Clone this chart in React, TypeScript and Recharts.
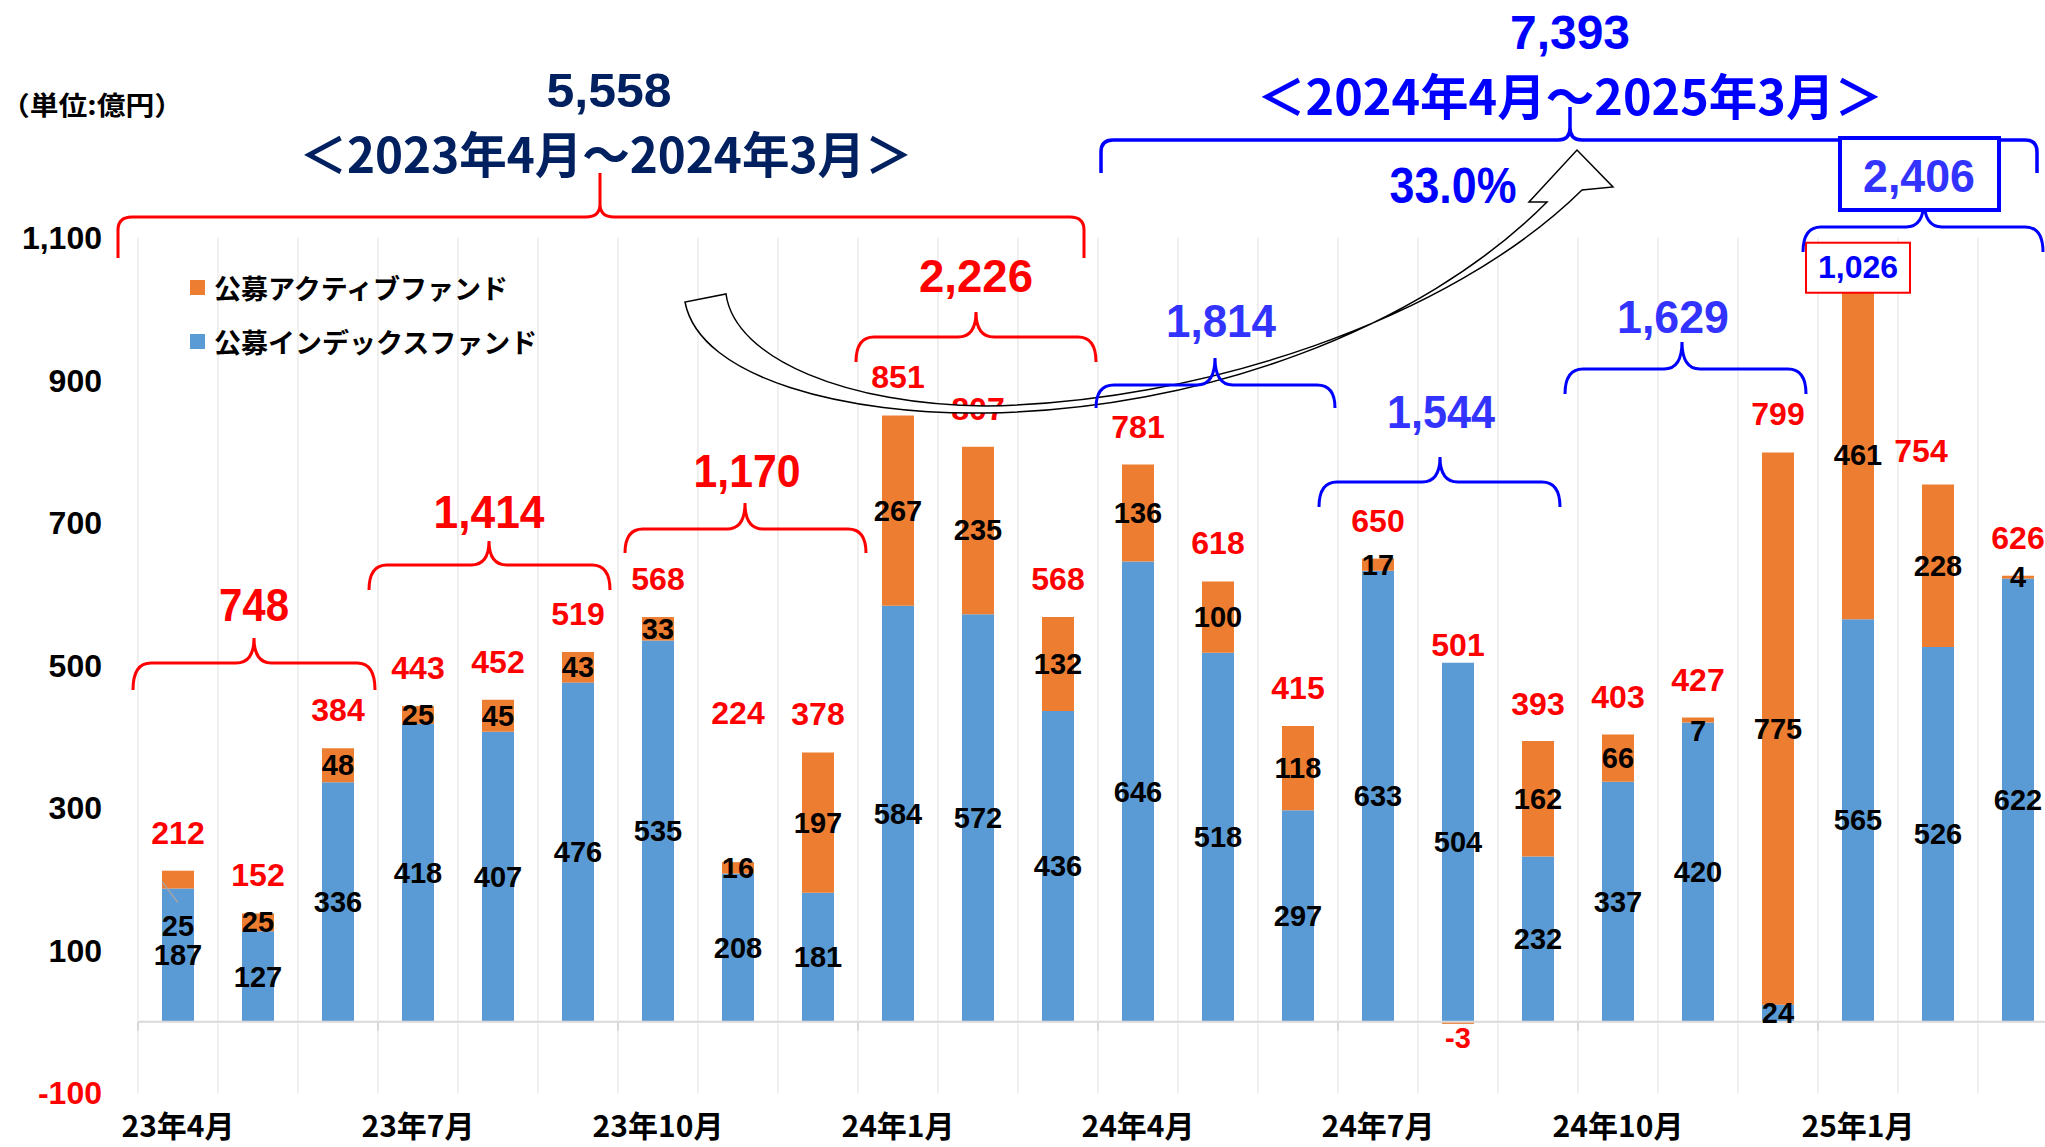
import React from "react"
import {
    ComposedChart, Bar, Line, XAxis, YAxis, CartesianGrid,
    ReferenceLine, LabelList, Legend
} from "recharts"

// 月次の純資金流入（億円）
const months = [
    "23年4月", "23年5月", "23年6月", "23年7月", "23年8月", "23年9月",
    "23年10月", "23年11月", "23年12月", "24年1月", "24年2月", "24年3月",
    "24年4月", "24年5月", "24年6月", "24年7月", "24年8月", "24年9月",
    "24年10月", "24年11月", "24年12月", "25年1月", "25年2月", "25年3月",
]
const indexFunds = [
    187, 127, 336, 418, 407, 476, 535, 208, 181, 584, 572, 436,
    646, 518, 297, 633, 504, 232, 337, 420, 24, 565, 526, 622,
]
const activeFunds = [
    25, 25, 48, 25, 45, 43, 33, 16, 197, 267, 235, 132,
    136, 100, 118, 17, -3, 162, 66, 7, 775, 461, 228, 4,
]
const totals = [
    212, 152, 384, 443, 452, 519, 568, 224, 378, 851, 807, 568,
    781, 618, 415, 650, 501, 393, 403, 427, 799, 1026, 754, 626,
]
const yTicks = [-100, 100, 300, 500, 700, 900, 1100]

const INDEX_NAME = "公募インデックスファンド"
const ACTIVE_NAME = "公募アクティブファンド"

const BLUE_BAR = "#5B9BD5"
const ORANGE_BAR = "#ED7D31"
const RED = "#FF0000"
const BLUE = "#0000FF"
const BLUE_SOFT = "#3333FF"
const NAVY = "#002060"

const NUM_FONT = '"Liberation Sans", Arial, sans-serif'
const JP_FONT = '"Noto Sans CJK JP", "Noto Sans", sans-serif'

// layout
const CAT_W = 80
const PLOT_LEFT = 138
const PLOT_TOP = 238
const PLOT_H = 855
const CHART_W = PLOT_LEFT + CAT_W * months.length + 12
const CHART_H = 1147
const ZERO_Y = PLOT_TOP + (PLOT_H * 1100) / 1200

const rows = months.map((m, i) => ({
    month: m,
    index: indexFunds[i],
    active: activeFunds[i],
    total: totals[i],
}))

// hand-placed label nudges seen in the original
const totalShift: Record<number, { dx?: number; dy: number }> = {
    7: { dy: -111 },
    16: { dy: 18 },
    21: { dy: 14 },
    22: { dx: -17, dy: 4 },
}
const activeShift: Record<number, number> = { 0: 46, 19: 11 }

const box = (p: any) => {
    const vb = p.viewBox || {}
    return {
        x: p.x ?? vb.x,
        y: p.y ?? vb.y,
        w: p.width ?? vb.width ?? 0,
        h: p.height ?? vb.height ?? 0,
    }
}

function IndexLabel(props: any) {
    const { x, y, w, h } = box(props)
    if (x == null) return null
    return (
        <text x={x + w / 2} y={y + h / 2} textAnchor="middle"
            dominantBaseline="central" fill="#000"
            fontFamily={NUM_FONT} fontWeight={700} fontSize={29}>
            {props.value}
        </text>
    )
}

function ActiveLabel(props: any) {
    const { x, y, w, h } = box(props)
    if (x == null) return null
    const v = Number(props.value)
    const cx = x + w / 2
    if (v < 0) {
        const bottom = Math.max(y, y + h)
        return (
            <text x={cx} y={bottom + 14} textAnchor="middle"
                dominantBaseline="central" fill={RED}
                fontFamily={NUM_FONT} fontWeight={700} fontSize={29}>
                {v}
            </text>
        )
    }
    const cy = y + h / 2
    const shift = activeShift[props.index] || 0
    return (
        <g>
            {shift > 30 && (
                <line x1={cx - 16} y1={cy + 2} x2={cx} y2={cy + 23}
                    stroke="#A6A6A6" strokeWidth={1.5} />
            )}
            <text x={cx} y={cy + shift} textAnchor="middle"
                dominantBaseline="central" fill="#000"
                fontFamily={NUM_FONT} fontWeight={700} fontSize={29}>
                {v}
            </text>
        </g>
    )
}

function TotalLabel(props: any) {
    const { x, y } = box(props)
    if (x == null) return null
    const s = totalShift[props.index] || { dy: 0 }
    const cx = x + (s.dx || 0)
    const cy = y - 38 + s.dy
    const text = Number(props.value).toLocaleString("en-US")
    if (Number(props.value) >= 1000) {
        return (
            <g>
                <rect x={cx - 52} y={cy - 24} width={104} height={50}
                    fill="#fff" stroke={RED} strokeWidth={2} />
                <text x={cx} y={cy} textAnchor="middle" dominantBaseline="central"
                    fill={BLUE} fontFamily={NUM_FONT} fontWeight={700} fontSize={32}>
                    {text}
                </text>
            </g>
        )
    }
    return (
        <text x={cx} y={cy} textAnchor="middle" dominantBaseline="central"
            fill={RED} fontFamily={NUM_FONT} fontWeight={700} fontSize={32}>
            {text}
        </text>
    )
}

function XTick(props: any) {
    const { x, y, payload } = props
    return (
        <text x={x} y={y + 31} textAnchor="middle" dominantBaseline="central"
            fill="#000" fontFamily={JP_FONT} fontWeight={700} fontSize={30}>
            {payload.value}
        </text>
    )
}

function YTick(props: any) {
    const { x, y, payload } = props
    const v = Number(payload.value)
    return (
        <text x={x} y={y} textAnchor="end" dominantBaseline="central"
            fill={v < 0 ? RED : "#000"} fontFamily={NUM_FONT}
            fontWeight={700} fontSize={32}>
            {v.toLocaleString("en-US")}
        </text>
    )
}

function LegendBox() {
    const items = [
        { name: ACTIVE_NAME, color: ORANGE_BAR },
        { name: INDEX_NAME, color: BLUE_BAR },
    ]
    return (
        <div>
            {items.map((it) => (
                <div key={it.name} style={{
                    display: "flex", alignItems: "center", height: 54,
                }}>
                    <span style={{
                        width: 15, height: 15, background: it.color,
                        marginRight: 9, display: "inline-block",
                    }} />
                    <span style={{
                        fontFamily: JP_FONT, fontWeight: 700, fontSize: 27,
                        color: "#000", whiteSpace: "nowrap",
                    }}>{it.name}</span>
                </div>
            ))}
        </div>
    )
}

// braces drawn over the chart, as in the slide
type Brace = {
    x1: number; x2: number; px: number; hy: number; tip: number; peak: number
    rx: number; ry: number; color: string; width: number
    label?: string; tx?: number; ty?: number; tw?: number; tc?: string
}

const braces: Brace[] = [
    { x1: 133, x2: 375, px: 254, hy: 663, tip: 690, peak: 638, rx: 18, ry: 27, color: RED, width: 3,
        label: "748", tx: 254, ty: 605, tw: 70, tc: RED },
    { x1: 369, x2: 610, px: 489, hy: 565, tip: 590, peak: 541, rx: 18, ry: 27, color: RED, width: 3,
        label: "1,414", tx: 489, ty: 512, tw: 111, tc: RED },
    { x1: 625, x2: 866, px: 745, hy: 529, tip: 553, peak: 503, rx: 18, ry: 27, color: RED, width: 3,
        label: "1,170", tx: 747, ty: 471, tw: 107, tc: RED },
    { x1: 856, x2: 1096, px: 976, hy: 337, tip: 362, peak: 312, rx: 18, ry: 27, color: RED, width: 3,
        label: "2,226", tx: 976, ty: 276, tw: 114, tc: RED },
    { x1: 118, x2: 1084, px: 600, hy: 217, tip: 258, peak: 173, rx: 14, ry: 13, color: RED, width: 3 },
    { x1: 1096, x2: 1335, px: 1215, hy: 385, tip: 408, peak: 358, rx: 18, ry: 27, color: BLUE, width: 3,
        label: "1,814", tx: 1221, ty: 321, tw: 110, tc: BLUE_SOFT },
    { x1: 1319, x2: 1560, px: 1440, hy: 482, tip: 507, peak: 457, rx: 18, ry: 27, color: BLUE, width: 3,
        label: "1,544", tx: 1441, ty: 412, tw: 108, tc: BLUE_SOFT },
    { x1: 1565, x2: 1806, px: 1682, hy: 369, tip: 394, peak: 342, rx: 18, ry: 27, color: BLUE, width: 3,
        label: "1,629", tx: 1673, ty: 317, tw: 112, tc: BLUE_SOFT },
    { x1: 1803, x2: 2043, px: 1924, hy: 227, tip: 252, peak: 200, rx: 18, ry: 27, color: BLUE, width: 3 },
    { x1: 1101, x2: 2037, px: 1570, hy: 140, tip: 173, peak: 107, rx: 12, ry: 12, color: BLUE, width: 3.5 },
]

function bracePath(b: Brace) {
    const ey = Math.min(b.ry, b.tip - b.hy)
    const py = Math.min(b.ry, b.hy - b.peak)
    return [
        `M${b.x1},${b.tip} L${b.x1},${b.hy + ey}`,
        `Q${b.x1},${b.hy} ${b.x1 + b.rx},${b.hy} L${b.px - b.rx},${b.hy}`,
        `Q${b.px},${b.hy} ${b.px},${b.hy - py} L${b.px},${b.peak}`,
        `M${b.px},${b.peak} L${b.px},${b.hy - py}`,
        `Q${b.px},${b.hy} ${b.px + b.rx},${b.hy} L${b.x2 - b.rx},${b.hy}`,
        `Q${b.x2},${b.hy} ${b.x2},${b.hy + ey} L${b.x2},${b.tip}`,
    ].join(" ")
}

const arrowPath =
    "M685,302 C700,380 850,415 985,413 C1200,410 1420,330 1547,202 " +
    "L1529,202 L1577,150 L1613,187 L1582,190 " +
    "C1450,320 1200,403 985,406 C850,405 735,360 726,294 Z"

function FitText(p: {
    x: number; y: number; w: number; size: number; color: string
    font: string; children: string
}) {
    return (
        <text x={p.x} y={p.y} textAnchor="middle" dominantBaseline="central"
            fill={p.color} fontFamily={p.font} fontWeight={700}
            fontSize={p.size} textLength={p.w} lengthAdjust="spacingAndGlyphs">
            {p.children}
        </text>
    )
}

function Overlay() {
    const majorTicks = Array.from({ length: 9 }, (_, k) => PLOT_LEFT + k * 3 * CAT_W)
    return (
        <svg width={2045} height={1147}
            style={{ position: "absolute", left: 0, top: 0, pointerEvents: "none" }}>
            {majorTicks.map((x) => (
                <line key={x} x1={x} x2={x} y1={ZERO_Y} y2={ZERO_Y + 9}
                    stroke="#D9D9D9" strokeWidth={2} />
            ))}

            <path d={arrowPath} fill="#fff" stroke="#000" strokeWidth={1.5} />

            {braces.map((b, i) => (
                <path key={i} d={bracePath(b)} fill="none" stroke={b.color}
                    strokeWidth={b.width} strokeLinejoin="round" />
            ))}
            {braces.filter((b) => b.label).map((b) => (
                <FitText key={b.label} x={b.tx!} y={b.ty!} w={b.tw!} size={46}
                    color={b.tc!} font={NUM_FONT}>{b.label!}</FitText>
            ))}

            <rect x={1840} y={138} width={159} height={72} fill="#fff"
                stroke={BLUE} strokeWidth={4} />
            <FitText x={1919} y={176} w={112} size={46} color={BLUE_SOFT}
                font={NUM_FONT}>2,406</FitText>

            <FitText x={92} y={103} w={182} size={26} color="#000"
                font={JP_FONT}>（単位:億円）</FitText>

            <FitText x={609} y={90} w={125} size={48} color={NAVY}
                font={NUM_FONT}>5,558</FitText>
            <FitText x={606} y={151} w={613} size={49} color={NAVY}
                font={JP_FONT}>＜2023年4月～2024年3月＞</FitText>

            <FitText x={1570} y={32} w={120} size={48} color={BLUE}
                font={NUM_FONT}>7,393</FitText>
            <FitText x={1570} y={93} w={626} size={49} color={BLUE}
                font={JP_FONT}>＜2024年4月～2025年3月＞</FitText>

            <FitText x={1453} y={186} w={127} size={50} color={BLUE}
                font={NUM_FONT}>33.0%</FitText>
        </svg>
    )
}

export default function App() {
    return (
        <div style={{
            position: "fixed", left: 0, top: 0, width: 2045, height: 1147,
            overflow: "hidden", background: "#fff", fontFamily: NUM_FONT,
        }}>
            <ComposedChart
                width={CHART_W}
                height={CHART_H}
                data={rows}
                stackOffset="sign"
                barCategoryGap="30%"
                margin={{ top: PLOT_TOP, right: 12, left: 0, bottom: 0 }}>

                <CartesianGrid
                    horizontal={false}
                    stroke="#EBEBEB"
                    strokeWidth={1.5}
                    verticalCoordinatesGenerator={({ offset }: any) =>
                        Array.from({ length: months.length + 1 },
                            (_, i) => offset.left + (i * offset.width) / months.length)} />

                <XAxis
                    dataKey="month"
                    interval={2}
                    height={54}
                    axisLine={false}
                    tickLine={false}
                    tickSize={0}
                    tickMargin={0}
                    tick={<XTick />} />

                <YAxis
                    domain={[-100, 1100]}
                    ticks={yTicks}
                    width={PLOT_LEFT}
                    axisLine={false}
                    tickLine={false}
                    tickSize={0}
                    tickMargin={36}
                    tick={<YTick />} />

                <ReferenceLine y={0} stroke="#D9D9D9" strokeWidth={2} />

                <Legend
                    layout="vertical"
                    align="center"
                    verticalAlign="middle"
                    wrapperStyle={{ left: 190, top: 260, width: 420 }}
                    content={() => <LegendBox />} />

                <Bar dataKey="index" name={INDEX_NAME} stackId="a"
                    fill={BLUE_BAR} isAnimationActive={false}>
                    <LabelList dataKey="index" content={<IndexLabel />} />
                </Bar>
                <Bar dataKey="active" name={ACTIVE_NAME} stackId="a"
                    fill={ORANGE_BAR} isAnimationActive={false}>
                    <LabelList dataKey="active" content={<ActiveLabel />} />
                </Bar>
                <Line dataKey="total" stroke="none" dot={false}
                    activeDot={false} legendType="none" isAnimationActive={false}>
                    <LabelList dataKey="total" content={<TotalLabel />} />
                </Line>
            </ComposedChart>
            <Overlay />
        </div>
    )
}
